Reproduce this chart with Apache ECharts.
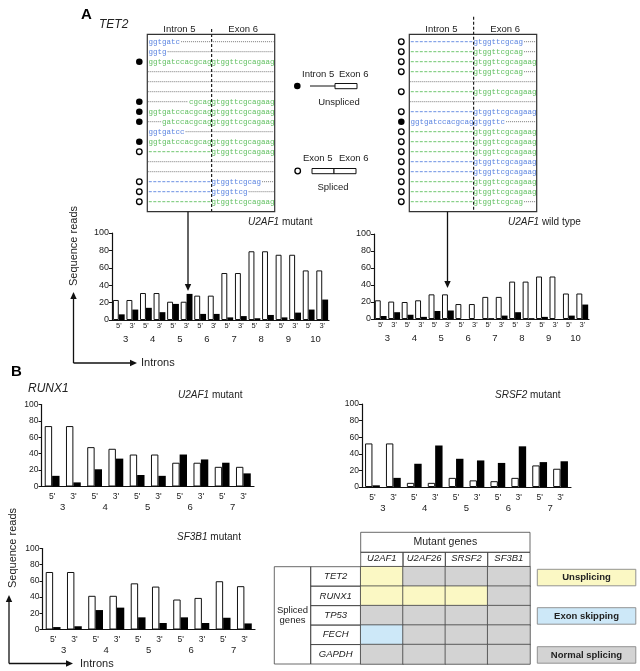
<!DOCTYPE html>
<html><head><meta charset="utf-8">
<script src="https://cdn.jsdelivr.net/npm/echarts@6/dist/echarts.min.js"></script>
<style>html,body{margin:0;padding:0;background:#fff}#c{width:640px;height:671px}</style>
</head><body><div id="c"></div>
<script>
// ---------------- DATA ----------------
const intronsA = ['3','4','5','6','7','8','9','10'];
const intronsB = ['3','4','5','6','7'];
const siteEnds = ["5'", "3'"];
// TET2 (panel A): white = spliced reads, black = unspliced reads
const tet2MutantSpliced   = [23, 23, 31, 31, 21, 21, 28, 28, 54, 54, 79, 79, 75, 75, 57, 57];
const tet2MutantUnspliced = [6.5, 12, 14, 9, 18.5, 30, 7, 7, 3, 4.5, 2, 5.8, 3, 8.5, 12, 23.5];
const tet2WildSpliced     = [22, 20.5, 20, 22, 29, 29, 17.6, 17.6, 26, 26, 44, 44, 50, 50, 30, 30];
const tet2WildUnspliced   = [3.5, 8, 5, 2.5, 9.4, 10, 0, 0, 1, 4, 8, 1, 2.5, 0, 4, 17];
// RUNX1 (panel B)
const runx1U2af1Spliced   = [73.7, 73.7, 48, 46, 39, 39, 29, 29, 24, 24];
const runx1U2af1Unspliced = [13, 5, 21, 34, 14, 13, 39, 33, 29, 16];
const runx1Srsf2Spliced   = [52.5, 52.5, 5, 5, 11, 8, 7, 11, 26, 22];
const runx1Srsf2Unspliced = [2, 11, 28, 50, 34, 32, 29, 49, 30, 31];
const runx1Sf3b1Spliced   = [71, 71, 41.6, 41.6, 57, 53, 37, 39, 59.6, 53.5];
const runx1Sf3b1Unspliced = [3, 4, 24, 27, 15, 8, 15, 8, 14.5, 7.5];
const yTicks = [0, 20, 40, 60, 80, 100];
// Table
const mutantGenes  = ['U2AF1', 'U2AF26', 'SRSF2', 'SF3B1'];
const splicedGenes = ['TET2', 'RUNX1', 'TP53', 'FECH', 'GAPDH'];
const outcomeNames = ['Normal splicing', 'Unsplicing', 'Exon skipping'];
const splicingOutcome = [
  [1, 0, 0, 0],
  [1, 1, 1, 0],
  [0, 0, 0, 0],
  [2, 0, 0, 0],
  [0, 0, 0, 0]
];
// Read alignments (TET2 intron 5 / exon 6)
const mutantReads = [
  {seq:'ggtgatc', at:0, col:'b'},
  {seq:'ggtg', at:0, col:'b'},
  {seq:'ggtgatccacgcaggtggttcgcagaag', at:0, col:'g', read:'u'},
  {}, {}, {},
  {seq:'cgcaggtggttcgcagaag', at:9, col:'g', read:'u'},
  {seq:'ggtgatccacgcaggtggttcgcagaag', at:0, col:'g', read:'u'},
  {seq:'gatccacgcaggtggttcgcagaag', at:3, col:'g', read:'u'},
  {seq:'ggtgatcc', at:0, col:'b'},
  {seq:'ggtgatccacgcaggtggttcgcagaag', at:0, col:'g', read:'u'},
  {seq:'gtggttcgcagaag', at:14, col:'g', read:'s'},
  {}, {},
  {seq:'gtggttcgcag', at:14, col:'b', read:'s'},
  {seq:'gtggttcg', at:14, col:'b', read:'s'},
  {seq:'gtggttcgcagaag', at:14, col:'g', read:'s'}
];
const wildReads = [
  {seq:'gtggttcgcag', at:14, col:'b', read:'s'},
  {seq:'gtggttcgcag', at:14, col:'g', read:'s'},
  {seq:'gtggttcgcagaag', at:14, col:'g', read:'s'},
  {seq:'gtggttcgcag', at:14, col:'g', read:'s'},
  {},
  {seq:'gtggttcgcagaag', at:14, col:'g', read:'s'},
  {},
  {seq:'gtggttcgcagaag', at:14, col:'b', read:'s'},
  {seq:'ggtgatccacgcaggtggttc', at:0, col:'b', read:'u'},
  {seq:'gtggttcgcagaag', at:14, col:'g', read:'s'},
  {seq:'gtggttcgcagaag', at:14, col:'g', read:'s'},
  {seq:'gtggttcgcagaag', at:14, col:'g', read:'s'},
  {seq:'gtggttcgcagaag', at:14, col:'b', read:'s'},
  {seq:'gtggttcgcagaag', at:14, col:'b', read:'s'},
  {seq:'gtggttcgcagaag', at:14, col:'g', read:'s'},
  {seq:'gtggttcgcagaag', at:14, col:'g', read:'s'},
  {seq:'gtggttcgcag', at:14, col:'g', read:'s'}
];

// ---------------- STYLE / LAYOUT ----------------
const FF = 'Liberation Sans, Arial, sans-serif';
const MONO = 'Liberation Mono, DejaVu Sans Mono, monospace';
const INK = '#111';
const seqColors = {g:'#5fbf5f', b:'#5b84e0'};
const outcomeColors = ['#d3d3d3', '#fbf8c4', '#cde8f8'];

function ends(introns){ const r=[]; introns.forEach(()=>siteEnds.forEach(e=>r.push(e))); return r; }

const grids=[], xAxes=[], yAxes=[], series=[];
function barPanel(rect, introns, spliced, unspliced, o){
  const g = grids.length;
  grids.push({left:rect[0], top:rect[1], width:rect[2], height:rect[3], containLabel:false});
  const xi = xAxes.length;
  xAxes.push({gridIndex:g, type:'category', data:ends(introns),
    axisLine:{show:true, lineStyle:{color:INK, width:1.2}}, axisTick:{show:false},
    axisLabel:{interval:0, fontSize:o.endFont, margin:o.endMargin, color:'#222', fontFamily:FF}});
  xAxes.push({gridIndex:g, type:'category', data:introns, position:'bottom', offset:o.numOffset,
    axisLine:{show:false}, axisTick:{show:false},
    axisLabel:{interval:0, fontSize:o.numFont, margin:0, color:'#222', fontFamily:FF}});
  const yi = yAxes.length;
  yAxes.push({gridIndex:g, type:'value', min:yTicks[0], max:yTicks[yTicks.length-1], interval:yTicks[1]-yTicks[0],
    axisLine:{show:true, lineStyle:{color:INK, width:1.2}}, axisTick:{show:true, length:3, lineStyle:{color:INK}},
    splitLine:{show:false},
    axisLabel:{fontSize:o.yFont, margin:3, color:'#222', fontFamily:FF}});
  series.push({type:'bar', xAxisIndex:xi, yAxisIndex:yi, data:spliced, barWidth:o.bw, barGap:'0%',
    itemStyle:{color:'#fff', borderColor:INK, borderWidth:1}, silent:true});
  series.push({type:'bar', xAxisIndex:xi, yAxisIndex:yi, data:unspliced, barWidth:o.bw, barGap:'0%',
    itemStyle:{color:'#000'}, silent:true});
}
const optA = {endFont:7.5, endMargin:2, numOffset:14, numFont:9.5, yFont:9, bw:5.9};
const optB = {endFont:8.5, endMargin:6, numOffset:16, numFont:9.5, yFont:8.5, bw:7.4};
barPanel([112, 233, 217, 87], intronsA, tet2MutantSpliced, tet2MutantUnspliced, optA);
barPanel([374, 234, 215, 85], intronsA, tet2WildSpliced, tet2WildUnspliced, optA);
barPanel([41.5, 404.5, 212.5, 82], intronsB, runx1U2af1Spliced, runx1U2af1Unspliced, optB);
barPanel([362, 404, 209, 83], intronsB, runx1Srsf2Spliced, runx1Srsf2Unspliced, optB);
barPanel([42.5, 548.5, 212.5, 81], intronsB, runx1Sf3b1Spliced, runx1Sf3b1Unspliced, optB);

// Table as heatmap
const tbl = {left:360.7, top:566.7, width:169.3, height:97.3};
const tg = grids.length;
grids.push(tbl);
const txi = xAxes.length;
xAxes.push({gridIndex:tg, type:'category', data:mutantGenes, position:'top',
  axisLine:{show:false}, axisTick:{show:false}, splitLine:{show:false},
  axisLabel:{interval:0, fontSize:9.5, fontStyle:'italic', color:'#222', margin:3.5, fontFamily:FF}});
const tyi = yAxes.length;
yAxes.push({gridIndex:tg, type:'category', data:splicedGenes, inverse:true,
  axisLine:{show:false}, axisTick:{show:false}, splitLine:{show:false},
  axisLabel:{interval:0, fontSize:9.5, fontStyle:'italic', color:'#222', align:'center', margin:25, fontFamily:FF}});
const heatData = [];
splicingOutcome.forEach((row, yi) => row.forEach((v, xi) => heatData.push([xi, yi, v])));
const heatIndex = series.length;
series.push({type:'heatmap', xAxisIndex:txi, yAxisIndex:tyi, data:heatData, silent:true,
  itemStyle:{borderColor:'#444', borderWidth:0.8}});

// ---------------- GRAPHICS (diagram parts) ----------------
const G = [];
function txt(x, y, text, o){ o=o||{};
  G.push({type:'text', x, y, rotation:o.rot||0, silent:true, z:10,
    style:Object.assign({text, fill:o.fill||'#222', font:(o.weight||'normal')+' '+(o.italic?'italic ':'')+(o.size||10)+'px '+(o.ff||FF),
      align:o.align||'left', verticalAlign:o.va||'middle'}, o.rich?{rich:o.rich}:{})});
}
function ln(x1,y1,x2,y2,o){ o=o||{};
  G.push({type:'line', silent:true, z:10, shape:{x1,y1,x2,y2},
    style:{stroke:o.stroke||INK, lineWidth:o.w||1, lineDash:o.dash||null}});
}
function poly(points, fill){ G.push({type:'polygon', silent:true, z:10, shape:{points}, style:{fill:fill||INK}}); }
function rect(x,y,w,h,o){ o=o||{};
  G.push({type:'rect', silent:true, z:o.z||9, shape:{x,y,width:w,height:h},
    style:{fill:o.fill||'#fff', stroke:o.stroke||INK, lineWidth:o.w==null?1:o.w}});
}
function circ(cx,cy,filled){
  G.push({type:'circle', silent:true, z:10, shape:{cx,cy,r:filled?3.3:2.8},
    style:{fill:filled?'#000':'#fff', stroke:'#000', lineWidth:filled?0:1.3}});
}
function arrowUp(x, yBottom, yTip){ ln(x, yBottom, x, yTip+6, {w:1.3}); poly([[x-3.2,yTip+7],[x+3.2,yTip+7],[x,yTip]]); }
function arrowDown(x, yTop, yTip){ ln(x, yTop, x, yTip-6, {w:1.3}); poly([[x-3.2,yTip-7],[x+3.2,yTip-7],[x,yTip]]); }
function arrowRight(xLeft, y, xTip){ ln(xLeft, y, xTip-6, y, {w:1.3}); poly([[xTip-7,y-3.2],[xTip-7,y+3.2],[xTip,y]]); }
const rich = s => ({i:{fontStyle:'italic', fontSize:s, fontFamily:FF, fill:'#222'}, n:{fontSize:s, fontFamily:FF, fill:'#222'}});

// Panel labels
txt(81, 15, 'A', {size:15, weight:'bold', fill:'#000'});
txt(99, 25, 'TET2', {size:12, italic:true});
txt(11, 372, 'B', {size:15, weight:'bold', fill:'#000'});
txt(28, 389, 'RUNX1', {size:12, italic:true});

// Read-alignment boxes
const rowTop = 41.7, rowH = 10, charW = 4.5, boxW = 127.4;
function readBox(x0, dashTop, reads){
  rect(x0, 34.3, boxW, 177.4, {w:1.2, stroke:'#333', z:8});
  const textL = x0 + 1.3, junction = textL + 14*charW;
  ln(junction, dashTop, junction, 211.7, {w:1.2, dash:[3,2], stroke:'#222'});
  txt((x0+junction)/2, 29, 'Intron 5', {size:9.5, align:'center'});
  txt((junction+x0+boxW)/2, 29, 'Exon 6', {size:9.5, align:'center'});
  const dot = {stroke:'#555', w:0.8, dash:[1,1]};
  reads.forEach((r, i) => {
    const y = rowTop + i*rowH;
    if(!r.seq){ ln(x0+1, y, x0+boxW-1, y, dot); return; }
    const s = textL + r.at*charW, e = s + r.seq.length*charW;
    if(r.read === 's') ln(x0+1.5, y, s-0.5, y, {stroke:seqColors[r.col], w:0.9, dash:[3,1.5]});
    else if(r.at > 0) ln(x0+1, y, s-1, y, dot);
    if(e < x0+boxW-3) ln(e+1, y, x0+boxW-1, y, dot);
    txt(s, y, r.seq, {size:7.5, ff:MONO, fill:seqColors[r.col]});
    if(r.read) circ(x0-8, y, r.read === 'u');
  });
}
readBox(147.3, 29, mutantReads);
readBox(409.3, 16.7, wildReads);

// Read-type legends
txt(302, 74, 'Intron 5', {size:9.5}); txt(339, 74, 'Exon 6', {size:9.5});
circ(297.3, 86, true); ln(310, 86, 335, 86, {w:1});
rect(335, 83.5, 22, 5.2, {w:1});
txt(339, 102, 'Unspliced', {size:9.5, align:'center'});
txt(303, 158, 'Exon 5', {size:9.5}); txt(339, 158, 'Exon 6', {size:9.5});
circ(297.7, 171, false);
rect(312, 168.5, 22, 5.2, {w:1}); rect(334, 168.5, 22, 5.2, {w:1});
txt(333, 187, 'Spliced', {size:9.5, align:'center'});

// Arrows from boxes to bars
arrowDown(188, 211.7, 291);
arrowDown(447.5, 211.7, 288);

// Chart titles
txt(248, 222, '{i|U2AF1}{n| mutant}', {size:10, rich:rich(10)});
txt(508, 222, '{i|U2AF1}{n| wild type}', {size:10, rich:rich(10)});
txt(178, 395, '{i|U2AF1}{n| mutant}', {size:10, rich:rich(10)});
txt(495, 395, '{i|SRSF2}{n| mutant}', {size:10, rich:rich(10)});
txt(177, 537, '{i|SF3B1}{n| mutant}', {size:10, rich:rich(10)});

// Axis-meaning arrows
txt(73.5, 246, 'Sequence reads', {size:11, align:'center', rot:Math.PI/2});
arrowUp(73.5, 363, 292); arrowRight(73.5, 363, 137);
txt(141, 363, 'Introns', {size:11});
txt(13, 548, 'Sequence reads', {size:11, align:'center', rot:Math.PI/2});
arrowUp(9, 663.5, 595); arrowRight(9, 663.5, 73);
txt(80, 664, 'Introns', {size:11});

// Table frame pieces (transparent so axis labels show through)
const colW = tbl.width / mutantGenes.length, rowHt = tbl.height / splicedGenes.length;
const frame = {w:0.8, stroke:'#444', fill:'rgba(0,0,0,0)', z:1};
rect(tbl.left, 532.3, tbl.width, 20, frame);
txt(tbl.left + tbl.width/2, 542.3, 'Mutant genes', {size:10.5, align:'center'});
mutantGenes.forEach((m, i) => rect(tbl.left + i*colW, 552.3, colW, 14.4, frame));
rect(274.3, tbl.top, 36.4, tbl.height, frame);
txt(292.5, 615.3, 'Spliced\ngenes', {size:9.5, align:'center'});
splicedGenes.forEach((s, i) => rect(310.7, tbl.top + i*rowHt, 50, rowHt, frame));

// Outcome legend boxes
const legendOrder = [1, 2, 0];
const legendY = [569.3, 607.7, 646.7];
legendOrder.forEach((k, i) => {
  rect(537.3, legendY[i], 98.5, 16.5, {fill:outcomeColors[k], stroke:'#888', w:0.9});
  txt(586.5, legendY[i] + 8.3, outcomeNames[k], {size:9.5, weight:'bold', align:'center'});
});

// ---------------- CHART ----------------
const chart = echarts.init(document.getElementById('c'), null, {renderer:'canvas'});
chart.setOption({
  animation:false,
  backgroundColor:'#fff',
  textStyle:{fontFamily:FF},
  grid:grids, xAxis:xAxes, yAxis:yAxes, series:series,
  visualMap:{type:'piecewise', show:false, seriesIndex:heatIndex, dimension:2,
    pieces:outcomeColors.map((c, v) => ({value:v, color:c}))},
  graphic:G
});
</script></body></html>
